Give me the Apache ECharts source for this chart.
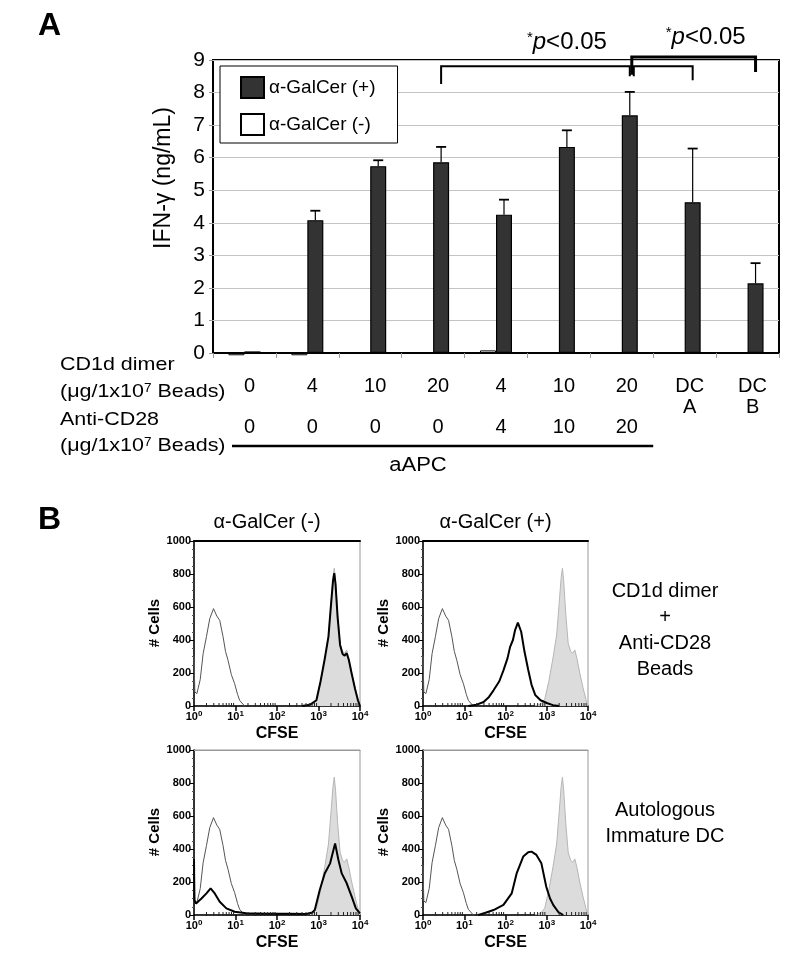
<!DOCTYPE html>
<html><head><meta charset="utf-8">
<script src="https://cdn.jsdelivr.net/npm/echarts@6/dist/echarts.min.js"></script>
<style>html,body{margin:0;padding:0;background:#fff}#c{width:800px;height:971px}</style>
</head><body><div id="c"></div>
<script>
// ---------- Panel A data ----------
const groupLabelsCD1d = ['0','4','10','20','4','10','20','DC\nA','DC\nB'];
const groupLabelsCD28 = ['0','0','0','0','4','10','20','',''];
const galcerNeg = [-0.07,-0.07,-0.02,-0.02,0.08,-0.02,-0.02,null,null];
const galcerPos = [0.05,4.08,5.74,5.86,4.25,6.33,7.30,4.63,2.14];
const galcerPosErr = [0,0.29,0.18,0.47,0.46,0.51,0.72,1.65,0.62];
const yTicksA = [0,1,2,3,4,5,6,7,8,9];
const seriesNames = ['α-GalCer (+)','α-GalCer (-)'];
const pLabel = '*p<0.05';

// ---------- Panel B data (x = log10 CFSE, y = # cells) ----------
const ctrlX = [0,0.02,0.07,0.15,0.22,0.30,0.38,0.47,0.55,0.62,0.70,0.76,0.82,0.90,0.98,1.05,1.10,1.22];
const ctrlY = [300,85,75,160,317,420,530,590,545,519,420,330,277,190,135,70,34,0];
const refX = [2.70,2.85,2.95,3.05,3.15,3.24,3.30,3.35,3.38,3.41,3.46,3.52,3.58,3.63,3.68,3.73,3.80,3.88,3.95,4.00];
const refY = [0,10,40,150,290,430,620,780,835,760,560,380,330,320,340,290,200,110,40,0];
const p1X = [2.60,2.80,2.95,3.05,3.15,3.24,3.30,3.35,3.38,3.41,3.46,3.52,3.58,3.63,3.68,3.73,3.80,3.88,3.95,4.00];
const p1Y = [0,8,35,150,285,420,610,760,805,740,540,370,315,305,320,280,195,105,35,0];
const p2X = [1.10,1.30,1.47,1.60,1.71,1.85,1.95,2.05,2.11,2.18,2.23,2.30,2.38,2.46,2.55,2.63,2.72,2.85,3.00,3.15,3.30];
const p2Y = [0,8,24,55,95,150,216,290,357,400,458,505,450,330,220,130,67,35,18,5,0];
const p3X = [0,0.01,0.05,0.18,0.30,0.40,0.50,0.62,0.78,0.98,1.26,1.80,2.30,2.71,2.85,2.91,3.03,3.15,3.28,3.40,3.48,3.56,3.68,3.80,3.90,4.00];
const p3Y = [340,90,70,100,131,162,131,80,40,20,10,8,7,6,15,30,151,252,313,434,333,252,192,111,40,10];
const p4X = [1.34,1.50,1.71,1.95,2.15,2.27,2.43,2.55,2.63,2.75,2.87,2.99,3.08,3.16,3.28,3.40];
const p4Y = [0,12,30,61,131,252,354,380,384,364,313,170,100,60,18,0];
const bTitles = ['α-GalCer (-)','α-GalCer (+)'];
const rowLabels1 = ['CD1d dimer','+','Anti-CD28','Beads'];
const rowLabels2 = ['Autologous','Immature DC'];

// ---------- layout / style ----------
const FONT = "'Liberation Sans', Arial, Helvetica, sans-serif";
const BAR_W = 16, CAP = 10;
const zip = (xs, ys) => xs.map((x, i) => [x, ys[i]]);
const chart = echarts.init(document.getElementById('c'), null, {renderer: 'canvas'});

const gridsB = [
  {left:194, top:541, width:166, height:165},
  {left:423, top:541, width:165, height:165},
  {left:194, top:750, width:166, height:165},
  {left:423, top:750, width:165, height:165}
];
const thickData = [[p1X,p1Y],[p2X,p2Y],[p3X,p3Y],[p4X,p4Y]];
const minorPos = [];
for (let d = 0; d < 4; d++) for (let k = 2; k <= 9; k++) minorPos.push([d + Math.log10(k), 0]);

const grids = [{left:213, top:60, width:566, height:293, show:true, borderColor:'#000', borderWidth:2, containLabel:false, outerBoundsMode:'none'}];
gridsB.forEach((g, i) => grids.push(Object.assign({show:true, borderColor:'#999', borderWidth:1, containLabel:false, outerBoundsMode:'none'}, g)));

const xAxes = [
  {gridIndex:0, type:'category', data:groupLabelsCD1d,
   axisLine:{show:true, lineStyle:{color:'#000', width:2}},
   axisTick:{show:true, length:5, lineStyle:{color:'#999'}},
   axisLabel:{interval:0, margin:23, fontSize:20, lineHeight:21, color:'#000', fontFamily:FONT, padding:[0,0,0,10]}},
  {gridIndex:0, type:'category', data:groupLabelsCD28, position:'bottom',
   axisLine:{show:false}, axisTick:{show:false},
   axisLabel:{interval:0, margin:64, fontSize:20, lineHeight:21, color:'#000', fontFamily:FONT, padding:[0,0,0,10]}}
];
const yAxes = [
  {gridIndex:0, type:'value', min:0, max:9, interval:1,
   axisLine:{show:false}, axisTick:{show:true, length:4, lineStyle:{color:'#999'}},
   splitLine:{show:true, lineStyle:{color:'#c4c4c4', width:1}},
   axisLabel:{margin:8, fontSize:21, color:'#000', fontFamily:FONT}}
];
gridsB.forEach((g, i) => {
  xAxes.push({gridIndex:i+1, type:'value', min:0, max:4, interval:1,
    axisLine:{show:true, lineStyle:{color:'#000', width:1.5}},
    axisTick:{show:true, length:5, lineStyle:{color:'#000', width:1.5}},
    splitLine:{show:false},
    axisLabel:{margin:4, color:'#000', fontFamily:FONT,
      formatter: v => '{b|10}{s|' + v + '}',
      rich:{b:{fontSize:11, fontWeight:'bold', fontFamily:FONT, color:'#000'},
            s:{fontSize:8, fontWeight:'bold', fontFamily:FONT, color:'#000', verticalAlign:'top', padding:[0,0,5,0]}}}});
  yAxes.push({gridIndex:i+1, type:'value', min:0, max:1000, interval:200,
    axisLine:{show:true, lineStyle:{color:'#000', width:1.5}},
    axisTick:{show:true, length:4, lineStyle:{color:'#000'}},
    minorTick:{show:true, splitNumber:4, length:2, lineStyle:{color:'#555'}},
    splitLine:{show:false},
    axisLabel:{margin:3, fontSize:11, fontWeight:'bold', color:'#000', fontFamily:FONT, formatter: v => String(v)}});
});
gridsB.forEach((g, i) => {
  xAxes.push({gridIndex:i+1, type:'value', min:0, max:4, position:'top',
    axisLine:{show:true, lineStyle:{color: i < 2 ? '#000' : '#999', width: i < 2 ? 2 : 1}},
    axisTick:{show:false}, axisLabel:{show:false}, splitLine:{show:false}});
});

const series = [
  {name:seriesNames[1], type:'bar', xAxisIndex:0, yAxisIndex:0, data:galcerNeg, barWidth:BAR_W, barGap:'0%', clip:false,
   itemStyle:{color:'#fff', borderColor:'#000', borderWidth:1}},
  {name:seriesNames[0], type:'bar', xAxisIndex:0, yAxisIndex:0, data:galcerPos, barWidth:BAR_W, barGap:'0%', clip:false,
   itemStyle:{color:'#333', borderColor:'#000', borderWidth:1.2}},
  {type:'custom', xAxisIndex:0, yAxisIndex:0, z:5,
   data: galcerPos.map((v, i) => [i, v, galcerPosErr[i]]),
   encode:{x:0, y:1},
   renderItem(params, api) {
     const i = api.value(0), v = api.value(1), e = api.value(2);
     if (!e) return null;
     const p0 = api.coord([i, v]), p1 = api.coord([i, v + e]);
     const x = p0[0] + BAR_W / 2;
     return {type:'group', children:[
       {type:'line', shape:{x1:x, y1:p0[1], x2:x, y2:p1[1]}, style:{stroke:'#000', lineWidth:1.2}},
       {type:'line', shape:{x1:x - CAP/2, y1:p1[1], x2:x + CAP/2, y2:p1[1]}, style:{stroke:'#000', lineWidth:1.8}}
     ]};
   }}
];
gridsB.forEach((g, i) => {
  const xi = i + 2, yi = i + 1;
  series.push({type:'line', xAxisIndex:xi, yAxisIndex:yi, data:zip(refX, refY), symbol:'none', smooth:false,
    lineStyle:{color:'#b5b5b5', width:1}, areaStyle:{color:'#dcdcdc', opacity:1}, z:1});
  series.push({type:'line', xAxisIndex:xi, yAxisIndex:yi, data:zip(ctrlX, ctrlY), symbol:'none', smooth:false,
    lineStyle:{color:'#555', width:1}, z:2});
  series.push({type:'line', xAxisIndex:xi, yAxisIndex:yi, data:zip(thickData[i][0], thickData[i][1]), symbol:'none', smooth:false,
    lineStyle:{color:'#000', width:2}, z:3});
  series.push({type:'custom', xAxisIndex:xi, yAxisIndex:yi, data:minorPos, z:4, clip:false,
    renderItem(params, api) {
      const p = api.coord([api.value(0), 0]);
      return {type:'line', shape:{x1:p[0], y1:p[1] - 3, x2:p[0], y2:p[1] + 1}, style:{stroke:'#222', lineWidth:1}};
    }});
});

chart.setOption({
  animation:false,
  backgroundColor:'#fff',
  textStyle:{fontFamily:FONT},
  grid:grids, xAxis:xAxes, yAxis:yAxes, series:series,
  legend:{data:seriesNames, orient:'vertical', left:220, top:66, icon:'rect',
    itemWidth:23, itemHeight:21, itemGap:14, padding:[10,22,7,20],
    backgroundColor:'#fff', borderColor:'#000', borderWidth:1,
    textStyle:{fontSize:19, color:'#000', fontFamily:FONT}}
});

// ---------- annotations computed from the axes ----------
const px = pt => chart.convertToPixel({xAxisIndex:0, yAxisIndex:0}, pt);
const darkX = i => px([i, 0])[0] + BAR_W / 2;
const yv = v => px([0, v])[1];
const brackets = [
  {from:3, to:6, level:8.81, legL:8.26, legR:8.50, w:2, dx:0},
  {from:6, to:7, level:8.81, legL:8.50, legR:8.38, w:2, dx:4},
  {from:6, to:8, level:9.09, legL:8.55, legR:8.63, w:3, dx:2}
];
const g = [];
brackets.forEach(b => {
  const x1 = darkX(b.from) + b.dx, x2 = darkX(b.to);
  g.push({type:'polyline', shape:{points:[[x1, yv(b.legL)], [x1, yv(b.level)], [x2, yv(b.level)], [x2, yv(b.legR)]]},
    style:{stroke:'#000', lineWidth:b.w, fill:null}, z:10});
});
const pRich = {s:{fontSize:15, fontFamily:FONT, color:'#000', verticalAlign:'top', padding:[0,0,8,0]},
               i:{fontSize:24, fontStyle:'italic', fontFamily:FONT, color:'#000'},
               n:{fontSize:24, fontFamily:FONT, color:'#000'}};
const pText = '{s|*}{i|p}{n|' + pLabel.slice(2) + '}';
[[5, 9.55, 0], [7, 9.70, 13]].forEach(([c, v, dx]) => {
  g.push({type:'text', x:darkX(c) + dx, y:yv(v), style:{text:pText, rich:pRich, align:'center', verticalAlign:'middle'}});
});
const T = (text, x, y, o) => g.push(Object.assign({type:'text', x, y,
  style:Object.assign({text, font:'20px ' + FONT, fill:'#000', align:'left', verticalAlign:'middle'}, (o && o.style) || {})},
  o ? {rotation:o.rotation || 0, scaleX:o.scaleX || 1} : {}));
T('A', 38, 26, {style:{font:'bold 32px ' + FONT}});
T('B', 38, 520, {style:{font:'bold 32px ' + FONT}});
T('IFN-γ (ng/mL)', 164, 178, {rotation:Math.PI/2, style:{font:'23px ' + FONT, align:'center'}});
const unitRich = {t:{fontSize:19, fontFamily:FONT, color:'#000'}, u:{fontSize:12, fontFamily:FONT, color:'#000', verticalAlign:'top', padding:[0,0,7,0]}};
const unitText = '{t|(μg/1x10}{u|7}{t| Beads)}';
const SX = 1.13;
T('CD1d dimer', 60, 365, {scaleX:SX, style:{font:'19px ' + FONT}});
g.push({type:'text', x:60, y:392, scaleX:SX, style:{text:unitText, rich:unitRich, align:'left', verticalAlign:'middle'}});
T('Anti-CD28', 60, 420, {scaleX:SX, style:{font:'19px ' + FONT}});
g.push({type:'text', x:60, y:446, scaleX:SX, style:{text:unitText, rich:unitRich, align:'left', verticalAlign:'middle'}});
const aapcRight = px([6, 0])[0] + (px([1,0])[0] - px([0,0])[0]) / 2;
g.push({type:'line', shape:{x1:232, y1:446, x2:aapcRight, y2:446}, style:{stroke:'#000', lineWidth:2.5}});
T('aAPC', 418, 465, {scaleX:1.1, style:{align:'center', font:'20px ' + FONT}});
// Panel B texts
gridsB.slice(0, 2).forEach((gr, i) => T(bTitles[i], gr.left + gr.width / 2 - 10, 522, {style:{align:'center'}}));
gridsB.forEach(gr => {
  T('# Cells', gr.left - 39, gr.top + 82, {rotation:Math.PI/2, style:{font:'bold 15px ' + FONT, align:'center'}});
  T('CFSE', gr.left + gr.width / 2, gr.top + gr.height + 28, {style:{font:'bold 16px ' + FONT, align:'center'}});
});
rowLabels1.forEach((t, i) => T(t, 665, 591 + i * 26, {style:{align:'center'}}));
rowLabels2.forEach((t, i) => T(t, 665, 810 + i * 26, {style:{align:'center'}}));

chart.setOption({graphic:{elements:g}});
</script></body></html>
